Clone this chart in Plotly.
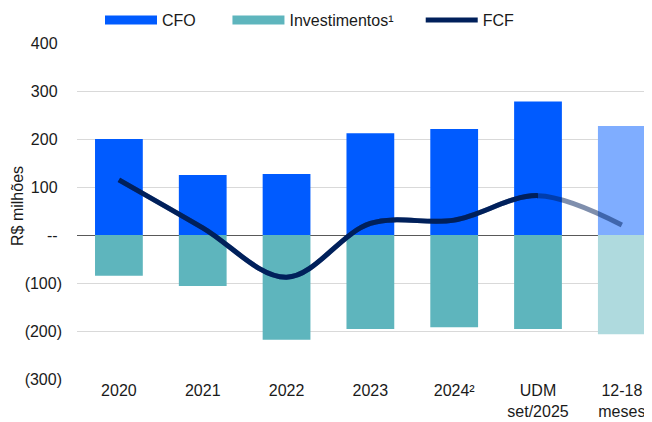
import plotly.graph_objects as go

# data
categories = ['2020', '2021', '2022', '2023', '2024²', 'UDM<br>set/2025', '12-18<br>meses']
cfo = [200, 125, 127, 212, 221, 278, 227]
investimentos = [-85, -106, -218, -196, -192, -196, -207]
fcf = [115, 15, -88, 24, 31, 82, 21]
y_ticks = [400, 300, 200, 100, 0, -100, -200, -300]
y_tick_labels = ['400\u00a0', '300\u00a0', '200\u00a0', '100\u00a0', '--\u00a0', '(100)', '(200)', '(300)']

blue = '#005BFF'
teal = '#5EB5BD'
navy = '#00205B'
font = 'Liberation Sans, Arial, sans-serif'

x = list(range(len(categories)))
cfo_colors = [blue] * 6 + ['#7FADFF']
inv_colors = [teal] * 6 + ['#AFDADE']

x_range = [-0.5, 6.36]
# second x axis is the same scale but stops at the UDM column, so the dark
# line gets clipped there and the faded projection shows after it
udm_frac = (5 - x_range[0]) / (x_range[1] - x_range[0])

fig = go.Figure()
fig.add_trace(go.Bar(x=x, y=cfo, marker=dict(color=cfo_colors, line=dict(width=0)),
                     width=0.57, showlegend=False))
fig.add_trace(go.Bar(x=x, y=investimentos, marker=dict(color=inv_colors, line=dict(width=0)),
                     width=0.57, showlegend=False))

fig.add_trace(go.Scatter(x=x, y=fcf, mode='lines', showlegend=False,
                         line=dict(color='rgba(0,32,91,0.5)', width=5, shape='spline', smoothing=1)))
fig.add_trace(go.Scatter(x=x, y=fcf, mode='lines', showlegend=False, xaxis='x2', yaxis='y2',
                         line=dict(color=navy, width=5, shape='spline', smoothing=1)))

# legend entries
fig.add_trace(go.Scatter(x=[None], y=[None], mode='lines', name='CFO' + '\u00a0' * 6,
                         line=dict(color=blue, width=9)))
fig.add_trace(go.Scatter(x=[None], y=[None], mode='lines', name='Investimentos¹' + '\u00a0' * 5,
                         line=dict(color=teal, width=9)))
fig.add_trace(go.Scatter(x=[None], y=[None], mode='lines', name='FCF',
                         line=dict(color=navy, width=5)))

# page body adds an 8px offset, so the figure is 8px smaller than the window
fig.update_layout(
    width=644, height=414,
    margin=dict(l=69, r=0, t=35, b=43, autoexpand=False),
    paper_bgcolor='white', plot_bgcolor='rgba(0,0,0,0)',
    barmode='relative',
    font=dict(family=font, size=16, color='#1a1a1a'),
    legend=dict(orientation='h', xref='container', yref='container',
                x=92 / 644, y=1 - 12 / 414, xanchor='left', yanchor='middle',
                font=dict(size=16), itemwidth=52, bgcolor='rgba(0,0,0,0)'),
    xaxis=dict(range=x_range, tickmode='array', tickvals=x, ticktext=categories,
               showgrid=False, zeroline=False, showline=False, ticks='', automargin=False),
    yaxis=dict(range=[-300, 400], tickmode='array', tickvals=y_ticks, ticktext=y_tick_labels,
               showgrid=True, gridcolor='#D9D9D9', gridwidth=1,
               zeroline=True, zerolinecolor='#595959', zerolinewidth=1,
               ticklabelstandoff=14, ticks='', automargin=False),
    xaxis2=dict(domain=[0, udm_frac], range=[x_range[0], 5], anchor='y2',
                visible=False, showgrid=False, zeroline=False),
    yaxis2=dict(domain=[0, 1], range=[-300, 400], anchor='x2',
                visible=False, showgrid=False, zeroline=False),
    annotations=[dict(text='R$ milhões', textangle=-90, x=-0.1026, xref='paper',
                      y=0.515, yref='paper', xanchor='center', yanchor='middle',
                      showarrow=False, font=dict(size=16))],
)

fig.write_html('out.html')
